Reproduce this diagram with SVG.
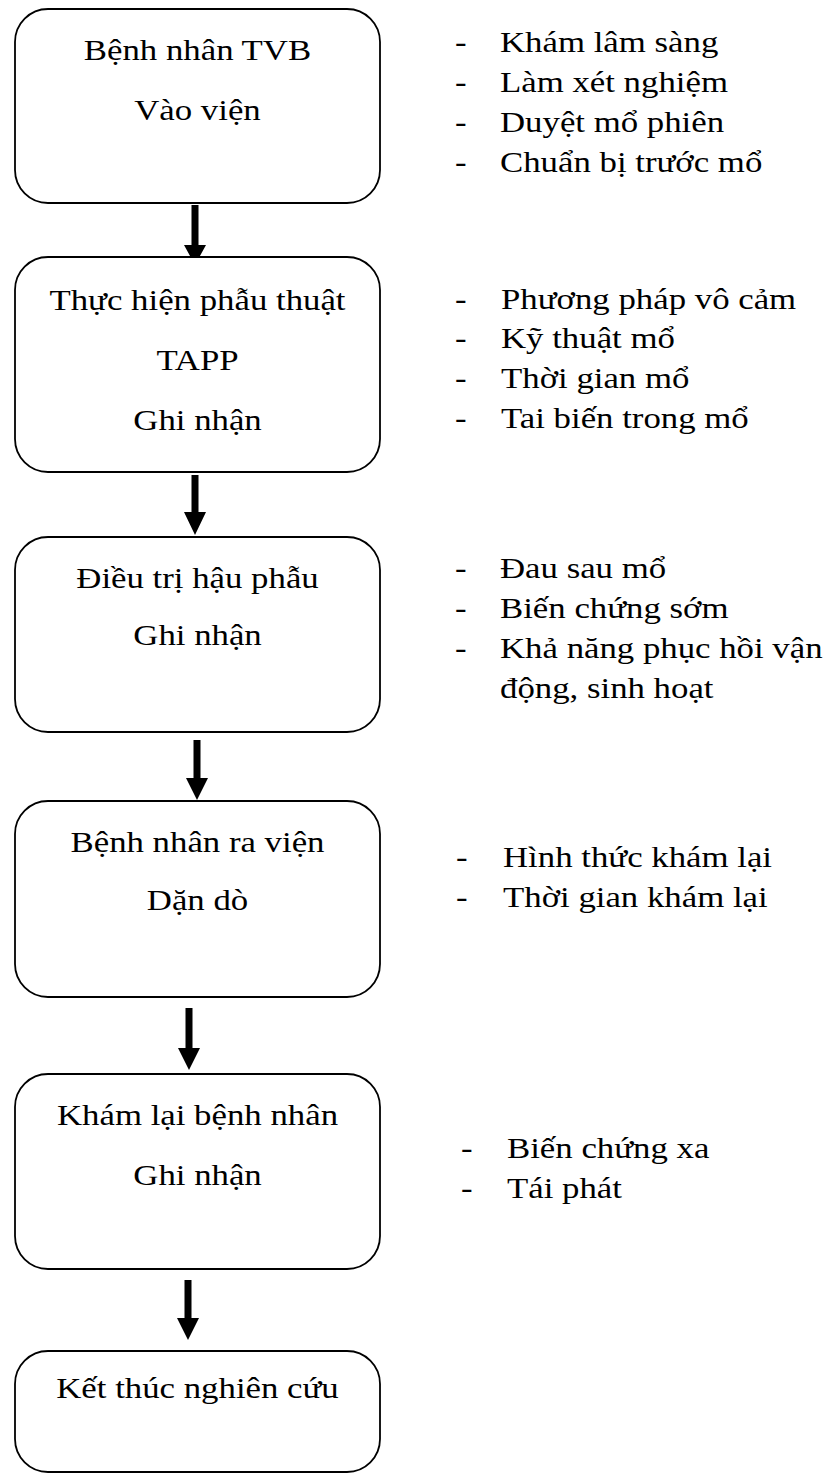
<svg xmlns="http://www.w3.org/2000/svg" width="832" height="1474" viewBox="0 0 832 1474">
<style>
.box{fill:#fff;stroke:#000;stroke-width:1.8}
.arrow{fill:#000;stroke:none}
text{font-family:"Liberation Serif","Times New Roman",serif;font-size:30px;fill:#000}
.c{text-anchor:middle}
</style>
<rect width="832" height="1474" fill="#fff"/>
<g id="connectors">
<path class="arrow" d="M191.5,205 H198.5 V245 H206 L195,265 L184,245 H191.5 Z"/>
<path class="arrow" d="M191.5,475 H198.5 V512 H206 L195,535 L184,512 H191.5 Z"/>
<path class="arrow" d="M193.5,740 H200.5 V778 H208 L197,800 L186,778 H193.5 Z"/>
<path class="arrow" d="M185.5,1008 H192.5 V1048 H200 L189,1070 L178,1048 H185.5 Z"/>
<path class="arrow" d="M184.5,1280 H191.5 V1318 H199 L188,1340 L177,1318 H184.5 Z"/>
</g>
<g id="node1">
<rect class="box" x="15" y="9" width="365" height="194" rx="33"/>
<text class="c" transform="translate(197.5 60) scale(1.16 1)">Bệnh nhân TVB</text>
<text class="c" transform="translate(197.5 120) scale(1.16 1)">Vào viện</text>
</g>
<g id="node2">
<rect class="box" x="15" y="257" width="365" height="215" rx="33"/>
<text class="c" transform="translate(197.5 310) scale(1.16 1)">Thực hiện phẫu thuật</text>
<text class="c" transform="translate(197.5 370) scale(1.16 1)">TAPP</text>
<text class="c" transform="translate(197.5 430) scale(1.16 1)">Ghi nhận</text>
</g>
<g id="node3">
<rect class="box" x="15" y="537" width="365" height="195" rx="33"/>
<text class="c" transform="translate(197.5 588) scale(1.16 1)">Điều trị hậu phẫu</text>
<text class="c" transform="translate(197.5 645) scale(1.16 1)">Ghi nhận</text>
</g>
<g id="node4">
<rect class="box" x="15" y="801" width="365" height="196" rx="33"/>
<text class="c" transform="translate(197.5 852) scale(1.16 1)">Bệnh nhân ra viện</text>
<text class="c" transform="translate(197.5 910) scale(1.16 1)">Dặn dò</text>
</g>
<g id="node5">
<rect class="box" x="15" y="1074" width="365" height="195" rx="33"/>
<text class="c" transform="translate(197.5 1125) scale(1.16 1)">Khám lại bệnh nhân</text>
<text class="c" transform="translate(197.5 1185) scale(1.16 1)">Ghi nhận</text>
</g>
<g id="node6">
<rect class="box" x="15" y="1351" width="365" height="121" rx="33"/>
<text class="c" transform="translate(197.5 1398) scale(1.16 1)">Kết thúc nghiên cứu</text>
</g>
<g id="list1">
<text transform="translate(455 52) scale(1.16 1)">-</text>
<text transform="translate(500 52) scale(1.16 1)">Khám lâm sàng</text>
<text transform="translate(455 92) scale(1.16 1)">-</text>
<text transform="translate(500 92) scale(1.16 1)">Làm xét nghiệm</text>
<text transform="translate(455 132) scale(1.16 1)">-</text>
<text transform="translate(500 132) scale(1.16 1)">Duyệt mổ phiên</text>
<text transform="translate(455 172) scale(1.16 1)">-</text>
<text transform="translate(500 172) scale(1.16 1)">Chuẩn bị trước mổ</text>
</g>
<g id="list2">
<text transform="translate(455 309) scale(1.16 1)">-</text>
<text transform="translate(501 309) scale(1.16 1)">Phương pháp vô cảm</text>
<text transform="translate(455 348) scale(1.16 1)">-</text>
<text transform="translate(501 348) scale(1.16 1)">Kỹ thuật mổ</text>
<text transform="translate(455 388) scale(1.16 1)">-</text>
<text transform="translate(501 388) scale(1.16 1)">Thời gian mổ</text>
<text transform="translate(455 428) scale(1.16 1)">-</text>
<text transform="translate(501 428) scale(1.16 1)">Tai biến trong mổ</text>
</g>
<g id="list3">
<text transform="translate(455 578) scale(1.16 1)">-</text>
<text transform="translate(500 578) scale(1.16 1)">Đau sau mổ</text>
<text transform="translate(455 618) scale(1.16 1)">-</text>
<text transform="translate(500 618) scale(1.16 1)">Biến chứng sớm</text>
<text transform="translate(455 658) scale(1.16 1)">-</text>
<text transform="translate(500 658) scale(1.16 1)">Khả năng phục hồi vận</text>
<text transform="translate(500 698) scale(1.16 1)">động, sinh hoạt</text>
</g>
<g id="list4">
<text transform="translate(456 867) scale(1.16 1)">-</text>
<text transform="translate(503 867) scale(1.16 1)">Hình thức khám lại</text>
<text transform="translate(456 907) scale(1.16 1)">-</text>
<text transform="translate(503 907) scale(1.16 1)">Thời gian khám lại</text>
</g>
<g id="list5">
<text transform="translate(461 1158) scale(1.16 1)">-</text>
<text transform="translate(507 1158) scale(1.16 1)">Biến chứng xa</text>
<text transform="translate(461 1198) scale(1.16 1)">-</text>
<text transform="translate(507 1198) scale(1.16 1)">Tái phát</text>
</g>
</svg>
